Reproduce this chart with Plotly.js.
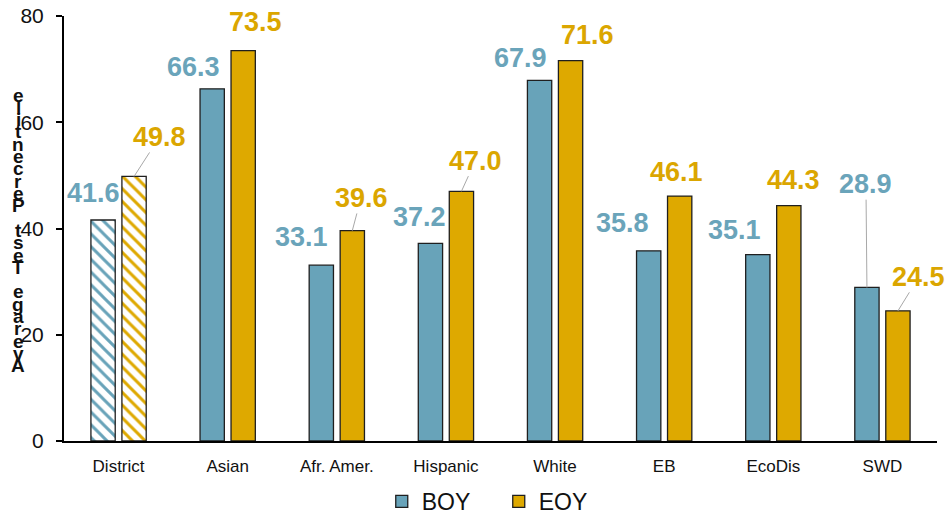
<!DOCTYPE html>
<html>
<head>
<meta charset="utf-8">
<script src="https://cdn.plot.ly/plotly-3.0.1.min.js"></script>
<style>html,body{margin:0;padding:0;background:#fff;}#chart{width:947px;height:514px;}</style>
</head>
<body>
<div id="chart"></div>
<script>
// ---- data ----
const categories = ["District", "Asian", "Afr. Amer.", "Hispanic", "White", "EB", "EcoDis", "SWD"];
const boyValues = [41.6, 66.3, 33.1, 37.2, 67.9, 35.8, 35.1, 28.9];
const eoyValues = [49.8, 73.5, 39.6, 47.0, 71.6, 46.1, 44.3, 24.5];
const seriesNames = ["BOY", "EOY"];
const yTickValues = [0, 20, 40, 60, 80];
const yTitle = "Average Test Percentile";

// ---- styling ----
const BLUE = "#68a3b9";
const GOLD = "#dea900";
const LABEL_BLUE = "#6aa4ba";
const LABEL_GOLD = "#dba600";
const EDGE = "#1f1f1f";
const FONT = "Liberation Sans, Arial, sans-serif";

// label offsets (pixels, text centre relative to bar top) and leader-line flags
const boyOffsets = [[-9.5,-27.5],[-19,-21.5],[-19.5,-28.5],[-10.5,-26.7],[-19,-22.7],[-26.5,-28.2],[-23.7,-25],[-1,-103.3]];
const eoyOffsets = [[25.5,-39.5],[12,-29],[8.7,-32.7],[14,-30.7],[16.5,-25.7],[-3.5,-24.2],[5,-25.7],[21,-34]];
const boyLeader = [false,false,false,false,false,false,false,true];
const eoyLeader = [true,false,true,true,false,false,false,true];

const isDistrict = categories.map(c => c === "District");

function barTrace(name, values, color, group) {
  return {
    type: "bar", name: name, x: categories, y: values, showlegend: false,
    offsetgroup: group, hoverinfo: "skip",
    marker: {
      color: color,
      line: {color: EDGE, width: 1.3},
      pattern: {
        shape: isDistrict.map(d => d ? "\\" : ""),
        fillmode: "replace",
        bgcolor: "white",
        fgcolor: color,
        fgopacity: 1,
        size: 9,
        solidity: 0.33
      }
    }
  };
}
function legendTrace(name, color, group) {
  return {type: "bar", name: name, x: [categories[0]], y: [null], showlegend: true,
          offsetgroup: group,
          marker: {color: color, line: {color: EDGE, width: 1.3}}};
}

const data = [
  barTrace(seriesNames[0], boyValues, BLUE, "g1"),
  barTrace(seriesNames[1], eoyValues, GOLD, "g2"),
  legendTrace(seriesNames[0], BLUE, "g1"),
  legendTrace(seriesNames[1], GOLD, "g2")
];

const annotations = [];
function addLabels(values, offsets, leaders, shift, color) {
  values.forEach((v, i) => {
    annotations.push({
      x: categories[i], y: v, xref: "x", yref: "y",
      xshift: shift,
      text: v.toFixed(1),
      showarrow: true, arrowhead: 0, arrowwidth: 1, standoff: 0, startstandoff: 0,
      arrowcolor: leaders[i] ? "#a8a8a8" : "rgba(0,0,0,0)",
      ax: offsets[i][0], ay: offsets[i][1],
      font: {family: FONT, size: 27, color: color, weight: "bold"},
      borderpad: 0
    });
  });
}
addLabels(boyValues, boyOffsets, boyLeader, -15.5, LABEL_BLUE);
addLabels(eoyValues, eoyOffsets, eoyLeader, 15.5, LABEL_GOLD);

// stacked y-axis title letters (as in reference)
const letters = yTitle.split("").reverse();
const plotTop = 16, plotH = 424.7;
letters.forEach((ch, i) => {
  if (ch === " ") return;
  const ypix = 95 + i * 12.3;
  annotations.push({
    xref: "paper", yref: "paper", x: 0, y: 1 - (ypix - plotTop) / plotH,
    xshift: -46, xanchor: "center", yanchor: "middle",
    text: ch, showarrow: false,
    font: {family: FONT, size: 19, color: "#111", weight: "bold"}
  });
});

const layout = {
  width: 947, height: 514,
  margin: {l: 64, r: 10, t: 16, b: 73, autoexpand: false},
  paper_bgcolor: "white", plot_bgcolor: "white",
  barmode: "group", bargap: 0.432, bargroupgap: 0.216,
  font: {family: FONT, color: "#111"},
  xaxis: {
    type: "category", range: [-0.5, 7.5], automargin: false,
    showline: true, linecolor: "#000", linewidth: 2,
    ticks: "", showgrid: false, zeroline: false,
    ticklabelstandoff: 9,
    tickfont: {family: FONT, size: 17, color: "#111"}
  },
  yaxis: {
    range: [0, 80], tickvals: yTickValues, ticktext: yTickValues.map(String),
    automargin: false,
    showline: true, linecolor: "#000", linewidth: 2,
    ticks: "outside", ticklen: 6, tickwidth: 2, tickcolor: "#000",
    ticklabelstandoff: 8,
    showgrid: false, zeroline: false,
    tickfont: {family: FONT, size: 21, color: "#111"}
  },
  showlegend: true,
  legend: {
    orientation: "h", x: 0.498, xanchor: "center", y: -0.142, yanchor: "middle",
    font: {family: FONT, size: 23, color: "#111"},
    traceorder: "normal", itemwidth: 30, entrywidth: 72
  },
  annotations: annotations
};

Plotly.newPlot("chart", data, layout, {staticPlot: true, displayModeBar: false});
</script>
</body>
</html>
